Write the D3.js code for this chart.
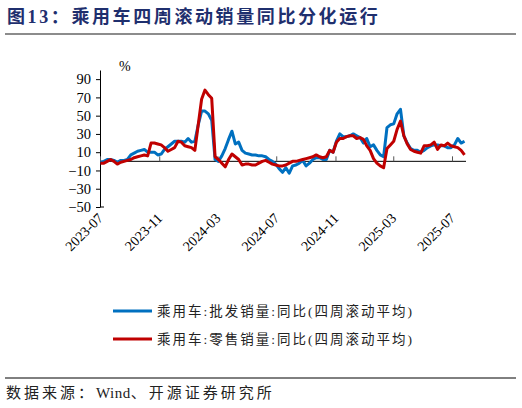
<!DOCTYPE html>
<html>
<head>
<meta charset="utf-8">
<script src="https://cdn.jsdelivr.net/npm/d3@7"></script>
<style>
  body { margin: 0; background: #fff; }
  svg { display: block; }
</style>
</head>
<body>
<svg id="chart" width="522" height="408"></svg>
<script>
// weekly points, first week of 2023-07 to end of 2025-07
const startDate = new Date(2023, 6, 2);
const weekCount = 109;

const wholesale = [
  -1, 0, 2, 2, 1, -1, 1, 1, 2, 7, 9, 11, 12, 13, 10, 10, 10, 7, 8, 13,
  16, 19, 22, 22, 22, 21, 25, 21, 22, 40, 55, 55, 52, 45, 2, 0, 6, 14, 24, 33,
  19, 21, 12, 9, 8, 7, 7, 6, 6, 5, 2, 0, -3, -8, -12, -7, -13, -5, -4, -2,
  1, -5, -2, 2, 4, 4, 2, 2, 12, 10, 22, 30, 27, 27, 28, 30, 28, 26, 20, 25,
  16, 18, 12, 7, 5, 37, 40, 41, 52, 57, 28, 20, 14, 12, 12, 10, 12, 15, 17, 18,
  18, 17, 17, 15, 15, 18, 25, 20, 22
];

const retail = [
  -2, -2, 0, 2, 0, -3, -1, 0, 1, 2, 4, 5, 6, 7, 6, 20, 20, 19, 18, 15,
  11, 13, 15, 22, 21, 17, 16, 15, 12, 40, 68, 78, 73, 69, 5, 2, -2, -6, 2, 8,
  5, 2, -4, -3, -3, -4, -4, -2, 0, 1, -1, -3, -4, -5, -5, -4, -2, 0, 0, 1,
  2, 3, 4, 5, 7, 5, 4, 5, 12, 10, 21, 25, 25, 27, 28, 28, 25, 26, 24, 17,
  12, 3, -2, -5, -7, 14, 18, 22, 35, 44, 28, 19, 13, 11, 10, 9, 17, 17, 18, 21,
  13, 18, 17, 20, 17, 16, 15, 12, 7
];

const yTicks = [-50, -30, -10, 10, 30, 50, 70, 90];
const xTickMonths = ["2023-07", "2023-11", "2024-03", "2024-07", "2024-11", "2025-03", "2025-07"];

const seriesNames = ["乘用车:批发销量:同比(四周滚动平均)", "乘用车:零售销量:同比(四周滚动平均)"];
const seriesColors = ["#0070C0", "#C00000"];

const dates = d3.range(weekCount).map(i => d3.timeWeek.offset(startDate, i));
const parseMonth = d3.timeParse("%Y-%m");

const svg = d3.select("#chart");
const serif = "'Liberation Serif', 'Noto Sans CJK SC', serif";
const cjk = "'Liberation Serif', 'Noto Sans CJK SC', sans-serif";

// title
svg.append("text")
    .attr("x", 7).attr("y", 23)
    .attr("font-family", serif)
    .attr("font-weight", "bold")
    .attr("font-size", 18)
    .attr("letter-spacing", 2.6)
    .attr("fill", "#1F2F6E")
    .text("图13：乘用车四周滚动销量同比分化运行");

svg.append("line")
    .attr("x1", 5).attr("x2", 516)
    .attr("y1", 34).attr("y2", 34)
    .attr("stroke", "#8c8c8c").attr("stroke-width", 2);

const x = d3.scaleTime()
    .domain([new Date(2023, 6, 1), new Date(2025, 6, 1)])
    .range([100, 452]);

const y = d3.scaleLinear()
    .domain([-50, 100])
    .range([207, 70]);

// y axis
const yAxis = svg.append("g")
    .attr("transform", "translate(100,0)")
    .call(d3.axisLeft(y).tickValues(yTicks).tickSize(4).tickSizeOuter(0));
yAxis.select(".domain").attr("stroke", "#000");
yAxis.selectAll(".tick line").attr("stroke", "#000");
yAxis.selectAll(".tick text")
    .attr("font-family", serif)
    .attr("font-size", 14.5)
    .attr("fill", "#000")
    .attr("x", -9);
// bottom tick of the y axis
yAxis.append("line")
    .attr("x1", 0).attr("x2", 4)
    .attr("y1", y(-50)).attr("y2", y(-50))
    .attr("stroke", "#000");

svg.append("text")
    .attr("x", 119).attr("y", 71)
    .attr("font-family", serif)
    .attr("font-size", 14)
    .text("%");

// x axis at zero
const xAxis = svg.append("g")
    .attr("transform", "translate(0," + y(0) + ")")
    .call(d3.axisTop(x).tickValues(xTickMonths.map(parseMonth)).tickSize(5).tickFormat(""));
xAxis.select(".domain").attr("d", "M100,0H466").attr("stroke", "#000");
xAxis.selectAll(".tick line").attr("stroke", "#555");

// x tick labels, rotated
svg.append("g").selectAll("text")
    .data(xTickMonths)
    .join("text")
    .attr("transform", d => "translate(" + (x(parseMonth(d)) + 4) + ",219) rotate(-45)")
    .attr("text-anchor", "end")
    .attr("font-family", serif)
    .attr("font-size", 14)
    .attr("fill", "#000")
    .text(d => d);

const line = d3.line()
    .x((d, i) => x(dates[i]))
    .y(d => y(d));

[wholesale, retail].forEach((s, k) => {
    svg.append("path")
        .datum(s)
        .attr("fill", "none")
        .attr("stroke", seriesColors[k])
        .attr("stroke-width", 3)
        .attr("stroke-linejoin", "round")
        .attr("d", line);
});

// legend
const legend = svg.append("g");
seriesNames.forEach((name, k) => {
    const ly = 311 + k * 28;
    legend.append("line")
        .attr("x1", 113).attr("x2", 152)
        .attr("y1", ly).attr("y2", ly)
        .attr("stroke", seriesColors[k])
        .attr("stroke-width", 3);
    legend.append("text")
        .attr("x", 157).attr("y", ly + 5)
        .attr("font-family", cjk)
        .attr("font-size", 13.5)
        .attr("letter-spacing", 2)
        .attr("fill", "#222")
        .text(name);
});

// source
svg.append("line")
    .attr("x1", 5).attr("x2", 516)
    .attr("y1", 378).attr("y2", 378)
    .attr("stroke", "#000").attr("stroke-width", 1);

const source = svg.append("text")
    .attr("x", 6).attr("y", 398)
    .attr("font-family", cjk)
    .attr("font-size", 15)
    .attr("fill", "#222");
source.append("tspan").attr("letter-spacing", 3).text("数据来源：");
source.append("tspan").attr("letter-spacing", 0.5).text("Wind");
source.append("tspan").attr("letter-spacing", 3).text("、开源证券研究所");
</script>
</body>
</html>
